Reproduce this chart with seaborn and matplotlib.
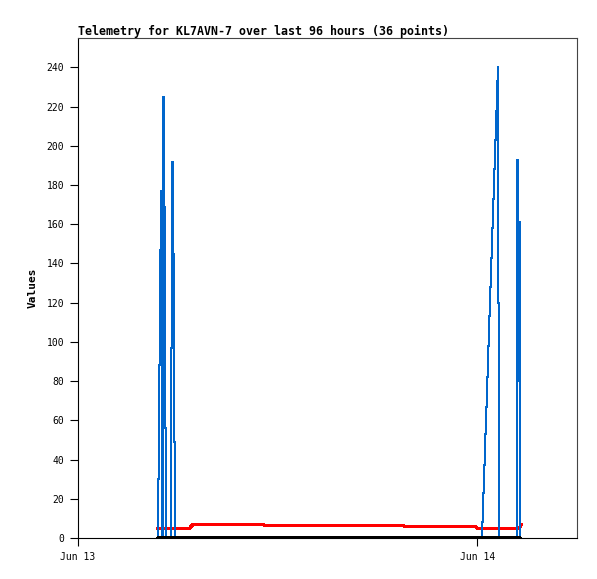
import pandas as pd
import matplotlib
matplotlib.use("Agg")
import matplotlib.pyplot as plt
import matplotlib.dates as mdates
import seaborn as sns

start = pd.Timestamp("2024-06-13 00:00")

# sample times as hours after Jun 13 00:00
blue_hours = [4.798, 4.822, 4.882, 4.942, 5.002, 5.062, 5.110, 5.170, 5.230, 5.278,
              5.590, 5.620, 5.680, 5.740, 5.788, 5.824,
              24.252, 24.282, 24.342, 24.402, 24.462, 24.522, 24.582, 24.642, 24.702,
              24.762, 24.822, 24.882, 24.942, 25.002, 25.062, 25.122, 25.182, 25.242,
              25.279, 25.315,
              26.336, 26.366, 26.420, 26.474, 26.534, 26.582]
blue_values = [0, 30, 88, 147, 177, 0, 225, 169, 56, 0,
               0, 97, 192, 145, 49, 0,
               0, 8, 23, 37, 53, 67, 82, 98, 113,
               128, 143, 158, 173, 188, 203, 218, 233, 240,
               120, 0,
               0, 97, 193, 80, 161, 0]

red_hours = [4.786, 6.707, 6.917, 11.150, 11.210, 19.557, 19.617, 23.880, 24.000, 26.522, 26.642]
red_values = [5, 5, 7, 7, 6.5, 6.5, 6, 6, 5, 5, 6.8]

black_hours = [4.786, 26.60]
black_values = [0, 0]

y_ticks = list(range(0, 241, 20))
title = "Telemetry for KL7AVN-7 over last 96 hours (36 points)"


def frame(hours, values):
    return pd.DataFrame({"time": start + pd.to_timedelta(hours, unit="h"), "value": values})


sns.set_theme(style="white")
plt.rcParams["font.family"] = ["DejaVu Sans Mono", "DejaVu Sans"]
plt.rcParams["text.color"] = "black"
plt.rcParams["axes.labelcolor"] = "black"
plt.rcParams["xtick.color"] = "black"
plt.rcParams["ytick.color"] = "black"

fig = plt.figure(figsize=(5.97, 5.79), dpi=100)
ax = fig.add_axes([78 / 597, 1 - 538 / 579, 499 / 597, 500 / 579])

sns.lineplot(data=frame(red_hours, red_values), x="time", y="value", color="#ff0000",
             lw=1.7, estimator=None, sort=False, ax=ax, zorder=2, antialiased=False)
sns.lineplot(data=frame(blue_hours, blue_values), x="time", y="value", color="#0066cc",
             lw=1.1, estimator=None, sort=False, ax=ax, zorder=3,
             drawstyle="steps-post", antialiased=False)
sns.lineplot(data=frame(black_hours, black_values), x="time", y="value", color="black",
             lw=1.6, estimator=None, sort=False, ax=ax, zorder=4, antialiased=False)

ax.set_xlim(start, start + pd.Timedelta(hours=30))
ax.set_ylim(0, 255)
ax.set_yticks(y_ticks)
ax.xaxis.set_major_locator(mdates.DayLocator())
ax.xaxis.set_major_formatter(mdates.DateFormatter("%b %d"))

ax.tick_params(axis="both", direction="out", length=6, width=0.8, color="black",
               labelsize=7, pad=4, left=True, bottom=True)
ax.set_xlabel("")
ax.set_ylabel("Values", fontsize=8, fontweight="bold", labelpad=6)
ax.set_title(title, loc="left", fontsize=8.4, fontweight="bold", pad=2)

for side in ["left", "bottom"]:
    ax.spines[side].set_color("black")
    ax.spines[side].set_linewidth(0.8)
for side in ["top", "right"]:
    ax.spines[side].set_color("#444444")
    ax.spines[side].set_linewidth(0.8)

fig.savefig("out.png", dpi=100)
